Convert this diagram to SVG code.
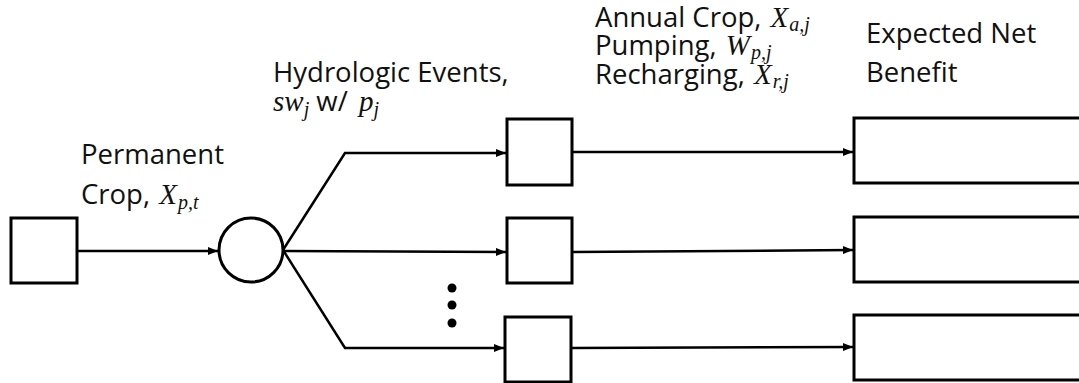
<svg xmlns="http://www.w3.org/2000/svg" width="1079" height="383" viewBox="0 0 1079 383">
<style>
.box{fill:#fff;stroke:#000;stroke-width:3}
.ln{fill:none;stroke:#000;stroke-width:2.5;stroke-linejoin:miter}
.t{font-family:"Open Sans","Liberation Sans",sans-serif;font-size:27.5px;fill:#111}
.m{font-family:"Liberation Serif","DejaVu Serif",serif;font-style:italic;font-size:29px}
.s{font-family:"Liberation Serif","DejaVu Serif",serif;font-style:italic;font-size:20px}
</style>
<defs>
<marker id="ah" viewBox="0 0 10 8" refX="10" refY="4" markerWidth="10" markerHeight="8" markerUnits="userSpaceOnUse" orient="auto">
<path d="M0,0 L10,4 L0,8 Z" fill="#000"/>
</marker>
</defs>
<rect width="1079" height="383" fill="#fff"/>
<g id="connectors">
<line class="ln" x1="77" y1="251" x2="218" y2="251" marker-end="url(#ah)"/>
<polyline class="ln" points="283,250 345,153 506,153" marker-end="url(#ah)"/>
<line class="ln" x1="283" y1="251" x2="506" y2="252" marker-end="url(#ah)"/>
<polyline class="ln" points="283,250 345,348 504,348" marker-end="url(#ah)"/>
<line class="ln" x1="572" y1="152" x2="853" y2="152" marker-end="url(#ah)"/>
<line class="ln" x1="572" y1="252" x2="853" y2="250" marker-end="url(#ah)"/>
<line class="ln" x1="571" y1="348" x2="853" y2="347" marker-end="url(#ah)"/>
</g>
<g id="permanent-decision">
<rect class="box" x="11" y="218" width="66" height="65"/>
<text class="t" x="81" y="164">Permanent</text>
<text class="t" x="81" y="204">Crop, <tspan class="m" dx="2">X</tspan><tspan class="s" dy="5" dx="1">p,t</tspan></text>
</g>
<g id="chance-node">
<circle class="box" cx="251" cy="250" r="32"/>
<text class="t" x="273" y="82">Hydrologic Events,</text>
<text class="t" x="273" y="111"><tspan class="m">sw</tspan><tspan class="s" dy="5">j</tspan><tspan dy="-5"> w/ </tspan><tspan class="m" dx="4">p</tspan><tspan class="s" dy="5">j</tspan></text>
</g>
<g id="annual-1"><rect class="box" x="507" y="119" width="65" height="66"/></g>
<g id="annual-2"><rect class="box" x="507" y="218" width="65" height="65"/></g>
<g id="annual-3"><rect class="box" x="505" y="317" width="66" height="65"/></g>
<g id="annual-label">
<text class="t" x="595" y="27">Annual Crop, <tspan class="m" dx="2">X</tspan><tspan class="s" dy="4" dx="1">a,j</tspan></text>
<text class="t" x="595" y="55">Pumping, <tspan class="m" dx="2">W</tspan><tspan class="s" dy="4" dx="1">p,j</tspan></text>
<text class="t" x="595" y="84">Recharging, <tspan class="m" dx="2">X</tspan><tspan class="s" dy="4" dx="1">r,j</tspan></text>
</g>
<g id="ellipsis">
<circle cx="452" cy="288" r="4.5" fill="#000"/>
<circle cx="452" cy="305" r="4.5" fill="#000"/>
<circle cx="452" cy="323" r="4.5" fill="#000"/>
</g>
<g id="benefit-1"><rect class="box" x="854" y="118" width="240" height="65"/></g>
<g id="benefit-2"><rect class="box" x="854" y="217" width="240" height="65"/></g>
<g id="benefit-3"><rect class="box" x="854" y="315" width="240" height="65"/></g>
<g id="benefit-label">
<text class="t" x="866" y="43">Expected Net</text>
<text class="t" x="866" y="82">Benefit</text>
</g>
</svg>
